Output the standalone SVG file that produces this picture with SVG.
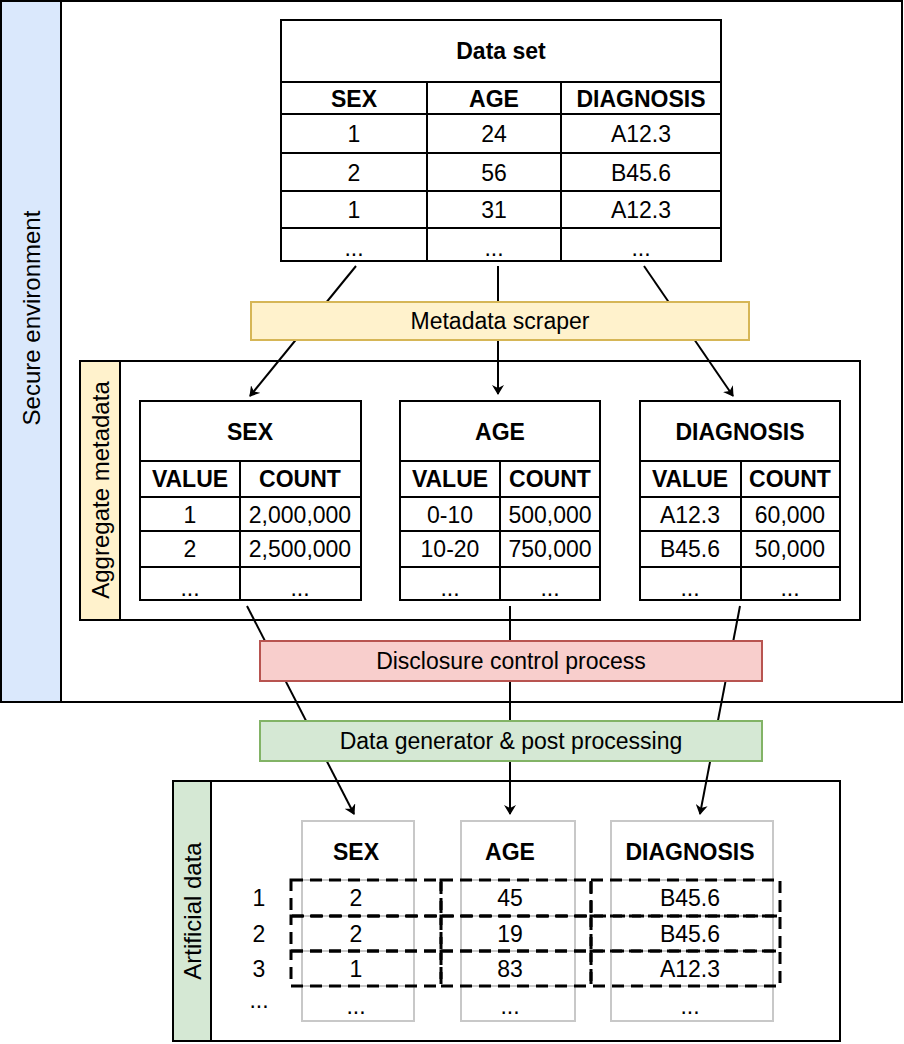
<svg xmlns="http://www.w3.org/2000/svg" width="904" height="1044" viewBox="0 0 904 1044">
<defs>
<marker id="ar" markerWidth="10" markerHeight="12" refX="9" refY="6" orient="auto" markerUnits="userSpaceOnUse"><path d="M0,0 L10,6 L0,12 L3,6 Z" fill="#000"/></marker>
<style>
text{font-family:"Liberation Sans",Arial,sans-serif;font-size:23px;fill:#000;text-anchor:middle;dominant-baseline:central}
.b{font-weight:bold}
.t{fill:#fff;stroke:#000;stroke-width:2}
.g{fill:#fff;stroke:#c8c8c8;stroke-width:2}
.l{stroke:#000;stroke-width:2;fill:none}
.gl{stroke:#c8c8c8;stroke-width:2;fill:none}
.d{fill:none;stroke:#000;stroke-width:3;stroke-dasharray:12,7}
.vt{font-size:24px}
</style>
</defs>
<rect width="904" height="1044" fill="#fff"/>
<g id="secure">
<rect x="1" y="1" width="901" height="701" fill="#fff" stroke="#000" stroke-width="2"/>
<rect x="1" y="1" width="60" height="701" fill="#dae8fc" stroke="#000" stroke-width="2"/>
<text class="vt" transform="translate(31,318) rotate(-90)">Secure environment</text>
</g>
<g id="dataset">
<rect class="t" x="281" y="20" width="440" height="241"/>
<path class="l" d="M281,82H721M281,114H721M281,153H721M281,191H721M281,228H721M427,82V261M561,82V261"/>
<text class="b" x="501" y="51">Data set</text>
<text class="b" x="354" y="99">SEX</text><text class="b" x="494" y="99">AGE</text><text class="b" x="641" y="99">DIAGNOSIS</text>
<text x="354" y="134">1</text><text x="494" y="134">24</text><text x="641" y="134">A12.3</text>
<text x="354" y="173">2</text><text x="494" y="173">56</text><text x="641" y="173">B45.6</text>
<text x="354" y="210">1</text><text x="494" y="210">31</text><text x="641" y="210">A12.3</text>
<text x="354" y="248">...</text><text x="494" y="248">...</text><text x="641" y="248">...</text>
</g>
<g id="aggregate">
<rect x="80" y="361" width="780" height="259" fill="#fff" stroke="#000" stroke-width="2"/>
<rect x="80" y="361" width="40" height="259" fill="#fff2cc" stroke="#000" stroke-width="2"/>
<text class="vt" transform="translate(100,490) rotate(-90)">Aggregate metadata</text>
</g>
<g id="artificial">
<rect x="173" y="781" width="667" height="260" fill="#fff" stroke="#000" stroke-width="2"/>
<rect x="173" y="781" width="38" height="260" fill="#d5e8d4" stroke="#000" stroke-width="2"/>
<text class="vt" transform="translate(192,911) rotate(-90)">Artificial data</text>
</g>
<g id="connectors">
<line class="l" x1="356" y1="266" x2="250" y2="396" marker-end="url(#ar)"/>
<line class="l" x1="498" y1="266" x2="498" y2="394" marker-end="url(#ar)"/>
<line class="l" x1="644" y1="266" x2="733" y2="396" marker-end="url(#ar)"/>
<line class="l" x1="247" y1="606" x2="354" y2="814" marker-end="url(#ar)"/>
<line class="l" x1="510" y1="606" x2="510" y2="814" marker-end="url(#ar)"/>
<line class="l" x1="740" y1="606" x2="700" y2="814" marker-end="url(#ar)"/>
</g>
<g id="scraper">
<rect x="251" y="302" width="498" height="38" fill="#fff2cc" stroke="#d6b656" stroke-width="2"/>
<text x="500" y="321">Metadata scraper</text>
</g>
<g id="sexmeta">
<rect class="t" x="140" y="401" width="221" height="199"/>
<path class="l" d="M140,461H361M140,497H361M140,531H361M140,567H361M240,461V600"/>
<text class="b" x="250" y="432">SEX</text>
<text class="b" x="190" y="479">VALUE</text><text class="b" x="300" y="479">COUNT</text>
<text x="190" y="515">1</text><text x="300" y="515">2,000,000</text>
<text x="190" y="549">2</text><text x="300" y="549">2,500,000</text>
<text x="190" y="588">...</text><text x="300" y="588">...</text>
</g>
<g id="agemeta">
<rect class="t" x="400" y="401" width="200" height="199"/>
<path class="l" d="M400,461H600M400,497H600M400,531H600M400,567H600M500,461V600"/>
<text class="b" x="500" y="432">AGE</text>
<text class="b" x="450" y="479">VALUE</text><text class="b" x="550" y="479">COUNT</text>
<text x="450" y="515">0-10</text><text x="550" y="515">500,000</text>
<text x="450" y="549">10-20</text><text x="550" y="549">750,000</text>
<text x="450" y="588">...</text><text x="550" y="588">...</text>
</g>
<g id="diagmeta">
<rect class="t" x="640" y="401" width="200" height="199"/>
<path class="l" d="M640,461H840M640,497H840M640,531H840M640,567H840M741,461V600"/>
<text class="b" x="740" y="432">DIAGNOSIS</text>
<text class="b" x="690" y="479">VALUE</text><text class="b" x="790" y="479">COUNT</text>
<text x="690" y="515">A12.3</text><text x="790" y="515">60,000</text>
<text x="690" y="549">B45.6</text><text x="790" y="549">50,000</text>
<text x="690" y="588">...</text><text x="790" y="588">...</text>
</g>
<g id="disclosure">
<rect x="260" y="641" width="502" height="40" fill="#f8cecc" stroke="#b85450" stroke-width="2"/>
<text x="511" y="661">Disclosure control process</text>
</g>
<g id="generator">
<rect x="260" y="721" width="502" height="40" fill="#d5e8d4" stroke="#82b366" stroke-width="2"/>
<text x="511" y="741">Data generator &amp; post processing</text>
</g>
<g id="artsex">
<rect class="g" x="302" y="821" width="112" height="200"/>
<path class="gl" d="M302,880H414M302,916H414M302,951H414M302,986H414"/>
<text class="b" x="356" y="852">SEX</text>
<text x="356" y="898">2</text><text x="356" y="934">2</text><text x="356" y="969">1</text><text x="356" y="1006">...</text>
</g>
<g id="artage">
<rect class="g" x="461" y="821" width="114" height="200"/>
<path class="gl" d="M461,880H575M461,916H575M461,951H575M461,986H575"/>
<text class="b" x="510" y="852">AGE</text>
<text x="510" y="898">45</text><text x="510" y="934">19</text><text x="510" y="969">83</text><text x="510" y="1006">...</text>
</g>
<g id="artdiag">
<rect class="g" x="611" y="821" width="162" height="200"/>
<path class="gl" d="M611,880H773M611,916H773M611,951H773M611,986H773"/>
<text class="b" x="690" y="852">DIAGNOSIS</text>
<text x="690" y="898">B45.6</text><text x="690" y="934">B45.6</text><text x="690" y="969">A12.3</text><text x="690" y="1006">...</text>
</g>
<g id="rows">
<text x="259" y="898">1</text><text x="259" y="934">2</text><text x="259" y="969">3</text><text x="259" y="1000">...</text>
<rect class="d" x="291" y="880" width="150" height="36"/>
<rect class="d" x="441" y="880" width="150" height="36"/>
<rect class="d" x="591" y="880" width="189" height="36"/>
<rect class="d" x="291" y="916" width="150" height="35"/>
<rect class="d" x="441" y="916" width="150" height="35"/>
<rect class="d" x="591" y="916" width="189" height="35"/>
<rect class="d" x="291" y="951" width="150" height="35"/>
<rect class="d" x="441" y="951" width="150" height="35"/>
<rect class="d" x="591" y="951" width="189" height="35"/>
</g>
</svg>
